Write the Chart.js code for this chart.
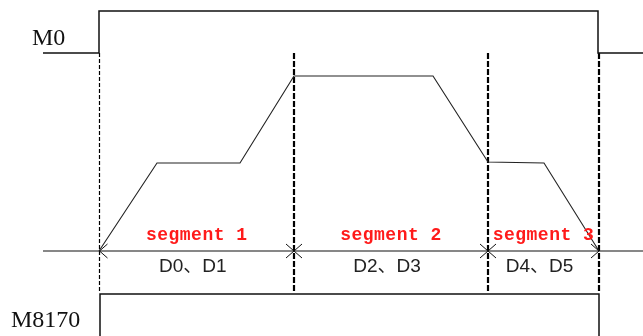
<!DOCTYPE html>
<html>
<head>
<meta charset="utf-8">
<script src="https://cdn.jsdelivr.net/npm/chart.js@4/dist/chart.umd.min.js"></script>
<style>
  html, body { margin: 0; padding: 0; background: #fff; }
  #wrap { width: 643px; height: 336px; }
</style>
</head>
<body>
<div id="wrap"><canvas id="timingChart"></canvas></div>
<script>
// time axis runs 0..643, level axis -85..251 (0 = speed baseline)
const boundaries = [99.5, 294, 488, 599];
const speedTime = [99, 157, 240, 294, 433, 488, 544, 599];
const speedValue = [0, 88, 88, 175, 175, 89, 88, 0];
const m0Time = [43, 99, 99, 598, 598, 643];
const m0Level = [198, 198, 240, 240, 198, 198];
const m8170Time = [100, 100, 599, 599];
const m8170Level = [-100, -43, -43, -100];
const axisTime = [43, 643];
const segmentLabels = ["segment 1", "segment 2", "segment 3"];
const registerLabels = ["D0、D1", "D2、D3", "D4、D5"];

function toPoints(xs, ys) {
  return xs.map((x, i) => ({ x: x, y: ys[i] }));
}

function lineSet(points, color, width, dash) {
  return {
    data: points,
    showLine: true,
    borderColor: color,
    borderWidth: width,
    borderDash: dash || [],
    pointRadius: 0,
    tension: 0,
    fill: false,
  };
}

const datasets = [
  lineSet(toPoints(m0Time, m0Level), "#111", 1.5),
  lineSet(toPoints(m8170Time, m8170Level), "#111", 1.5),
  lineSet(toPoints(axisTime, [0, 0]), "#111", 1.2),
  lineSet(toPoints(speedTime, speedValue), "#222", 1.1),
];

boundaries.forEach((b, i) => {
  const thin = i === 0;
  datasets.push(
    lineSet(toPoints([b, b], [198, -42]), "#000", thin ? 1.2 : 2.2, thin ? [4, 2] : [6, 2])
  );
});

const annotatePlugin = {
  id: "annotate",
  afterDatasetsDraw(chart) {
    const ctx = chart.ctx;
    const xs = chart.scales.x;
    const ys = chart.scales.y;
    const y0 = ys.getPixelForValue(0);
    ctx.save();

    // dimension arrowheads on the speed baseline
    ctx.strokeStyle = "#111";
    ctx.lineWidth = 1;
    boundaries.forEach((b, i) => {
      const px = xs.getPixelForValue(b);
      const heads = [];
      if (i > 0) heads.push(-1);
      if (i < boundaries.length - 1) heads.push(1);
      heads.forEach((dir) => {
        ctx.beginPath();
        ctx.moveTo(px + dir * 8, y0 - 7);
        ctx.lineTo(px, y0);
        ctx.lineTo(px + dir * 8, y0 + 7);
        ctx.stroke();
      });
    });

    // signal names
    ctx.fillStyle = "#111";
    ctx.font = "24px 'Liberation Serif', serif";
    ctx.textAlign = "left";
    ctx.textBaseline = "alphabetic";
    ctx.fillText("M0", 32, 45);
    ctx.fillText("M8170", 11, 327);

    // segment and register labels
    for (let i = 0; i < segmentLabels.length; i++) {
      const mid = xs.getPixelForValue((boundaries[i] + boundaries[i + 1]) / 2);
      ctx.textAlign = "center";
      ctx.textBaseline = "middle";
      ctx.fillStyle = "#ff1a1a";
      ctx.font = "bold 18px 'Liberation Mono', monospace";
      ctx.letterSpacing = "0.5px";
      ctx.fillText(segmentLabels[i], mid, y0 - 16);
      ctx.letterSpacing = "0px";
      ctx.fillStyle = "#222";
      ctx.font = "19px 'Liberation Sans', 'Noto Sans CJK SC', sans-serif";
      ctx.fillText(registerLabels[i], mid - 4, y0 + 16);
    }
    ctx.restore();
  },
};

new Chart(document.getElementById("timingChart"), {
  type: "scatter",
  data: { datasets: datasets },
  options: {
    responsive: true,
    maintainAspectRatio: false,
    animation: false,
    layout: { padding: 0 },
    plugins: {
      legend: { display: false },
      tooltip: { enabled: false },
    },
    scales: {
      x: { type: "linear", min: 0, max: 643, display: false },
      y: { type: "linear", min: -85, max: 251, display: false },
    },
  },
  plugins: [annotatePlugin],
});
</script>
</body>
</html>
